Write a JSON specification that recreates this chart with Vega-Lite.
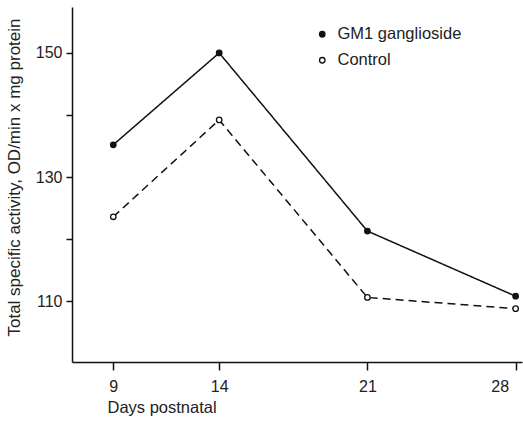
{
  "$schema": "https://vega.github.io/schema/vega-lite/v6.json",
  "width": 450,
  "height": 355,
  "autosize": {"type": "none"},
  "padding": {"left": 72, "top": 7, "right": 1, "bottom": 60},
  "background": "white",
  "config": {
    "view": {"stroke": null},
    "font": "Liberation Sans",
    "axis": {"domainColor": "#111", "tickColor": "#111", "labelColor": "#222", "titleColor": "#222", "grid": false, "labelFontSize": 16, "titleFontSize": 16, "titleFontWeight": "normal", "domainWidth": 1.5, "tickWidth": 1.5}
  },
  "data": {
    "values": [
      {"day": 9, "value": 135.2, "series": "GM1 ganglioside"},
      {"day": 14, "value": 150.0, "series": "GM1 ganglioside"},
      {"day": 21, "value": 121.3, "series": "GM1 ganglioside"},
      {"day": 28, "value": 110.8, "series": "GM1 ganglioside"},
      {"day": 9, "value": 123.6, "series": "Control"},
      {"day": 14, "value": 139.2, "series": "Control"},
      {"day": 21, "value": 110.6, "series": "Control"},
      {"day": 28, "value": 108.8, "series": "Control"}
    ]
  },
  "encoding": {
    "x": {
      "field": "day", "type": "quantitative",
      "scale": {"domain": [7.05, 28.3], "nice": false, "zero": false},
      "axis": {"values": [9, 14, 21, 28], "tickSize": 8, "labelPadding": 8, "labelFlush": 10, "labelFlushOffset": -7, "title": "Days postnatal", "titleFontSize": 16.5, "titleX": 35, "titleY": 50, "titleAlign": "left", "titleBaseline": "alphabetic", "titleAnchor": null}
    },
    "y": {
      "field": "value", "type": "quantitative",
      "scale": {"domain": [100.2, 157.4], "nice": false, "zero": false},
      "axis": {"values": [110, 120, 130, 140, 150], "labelExpr": "datum.value % 20 == 10 ? datum.label : ''", "tickSize": 6, "labelPadding": 4, "title": "Total specific activity, OD/min x mg protein", "titleFontSize": 17, "titleX": -58, "titleY": 170, "titleAngle": -90, "titleAlign": "center", "titleBaseline": "middle"}
    }
  },
  "layer": [
    {
      "mark": {"type": "line", "color": "#111", "strokeWidth": 1.5},
      "encoding": {
        "strokeDash": {"field": "series", "type": "nominal", "scale": {"domain": ["GM1 ganglioside", "Control"], "range": [[1, 0], [8, 5]]}, "legend": null}
      }
    },
    {
      "mark": {"type": "point", "shape": "circle", "stroke": "#111", "strokeWidth": 1.3, "size": 30, "opacity": 1, "filled": false},
      "encoding": {
        "fill": {"field": "series", "type": "nominal", "scale": {"domain": ["GM1 ganglioside", "Control"], "range": ["#111", "white"]},
          "legend": {"title": null, "orient": "none", "legendX": 242, "legendY": 19, "symbolType": "circle", "symbolSize": 30, "symbolStrokeColor": "#111", "symbolStrokeWidth": 1.3, "symbolOpacity": 1, "labelFontSize": 16.5, "labelColor": "#222", "rowPadding": 9, "labelOffset": 7}}
      }
    }
  ],
  "resolve": {"legend": {"fill": "independent", "strokeDash": "independent"}, "scale": {"fill": "independent", "strokeDash": "independent"}}
}
